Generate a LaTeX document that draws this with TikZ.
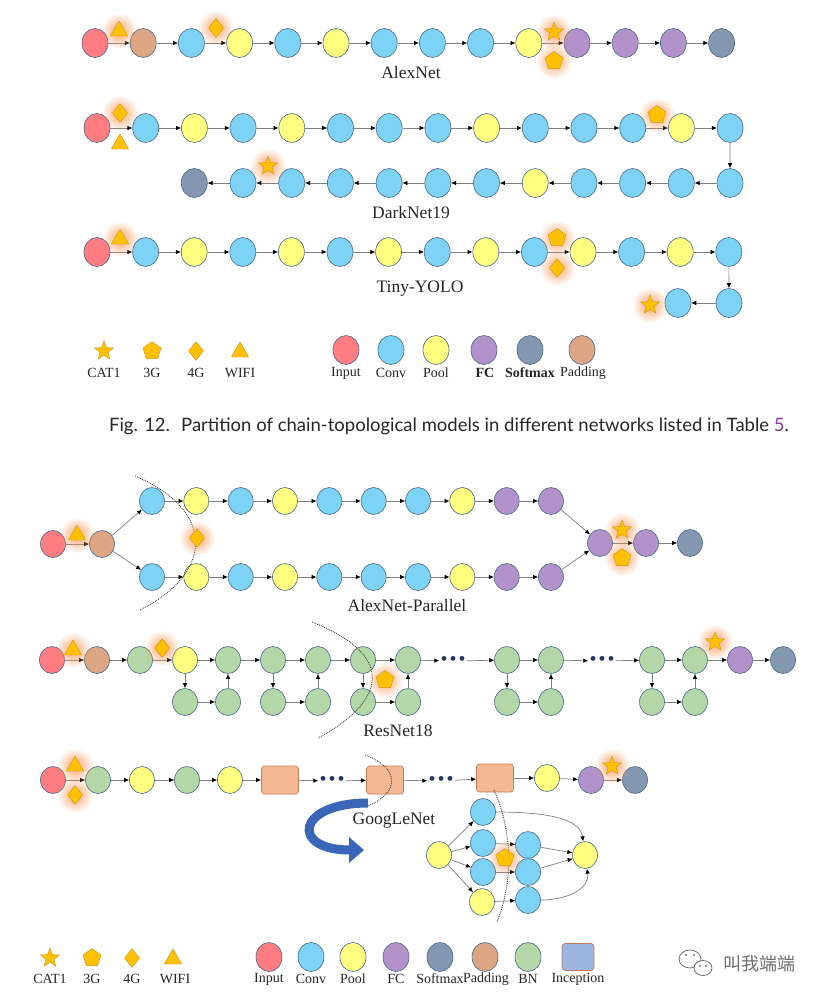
\documentclass[tikz,border=0pt]{standalone}
\usepackage{fontspec}
\setmainfont{Liberation Serif}
\newfontfamily\capfont{Lato}
\newfontfamily\cjkfont{Noto Sans CJK SC}
\usetikzlibrary{shapes.geometric,arrows.meta,fadings,positioning}

\definecolor{cinp}{HTML}{FF7C80}
\definecolor{cconv}{HTML}{7DD3F6}
\definecolor{cpool}{HTML}{FFFF80}
\definecolor{cfc}{HTML}{B392CC}
\definecolor{csoft}{HTML}{8497B0}
\definecolor{cpad}{HTML}{DDA683}
\definecolor{cbn}{HTML}{B4D7A8}
\definecolor{cinc}{HTML}{F5B895}
\definecolor{cincleg}{HTML}{9DB5E0}
\definecolor{incedge}{HTML}{C47A52}
\definecolor{nodeedge}{HTML}{46668A}
\definecolor{edgec}{HTML}{7F7F7F}
\definecolor{iconc}{HTML}{FFC000}
\definecolor{iconedge}{HTML}{C8961E}
\definecolor{glowc}{HTML}{F89858}
\definecolor{dotc}{HTML}{1F3864}
\definecolor{arrowc}{HTML}{3A66B8}
\definecolor{linkc}{HTML}{7E3A96}
\definecolor{wxc}{HTML}{6E6E6E}

\tikzfading[name=glowfade, inner color=transparent!10, outer color=transparent!100]
\pgfdeclarelayer{front}
\pgfsetlayers{main,front}

\begin{document}
\begin{tikzpicture}[x=1pt,y=-1pt,
  lay/.style={ellipse,draw=nodeedge,line width=0.6pt,inner sep=0pt,minimum width=26pt,minimum height=29pt},
  lays/.style={lay,minimum width=25pt,minimum height=27pt},
  inc/.style={rectangle,rounded corners=3pt,draw=incedge,line width=0.6pt,fill=cinc,minimum width=37pt,minimum height=28pt},
  flow/.style={draw=edgec,line width=0.7pt,-{Latex[length=5pt,width=4.5pt,color=black]}},
  icon/.style={fill=iconc,draw=iconedge,line width=0.4pt,inner sep=0pt},
  cat/.style={icon,star,star points=5,star point ratio=2.4,minimum size=20pt},
  threeg/.style={icon,regular polygon,regular polygon sides=5,minimum size=19pt},
  fourg/.style={icon,diamond,minimum width=15pt,minimum height=19pt},
  wifi/.style={icon,regular polygon,regular polygon sides=3,minimum size=20pt},
  glow/.style={fill=glowc,path fading=glowfade},
  cut/.style={densely dotted,line width=0.9pt,draw=black!75},
  dotsn/.style={inner sep=1pt,text=dotc,font=\fontsize{20}{20}\selectfont},
  lbl/.style={font=\fontsize{17.5}{20}\selectfont,text=black!85},
  leg/.style={font=\fontsize{14}{16}\selectfont,text=black!85},
  bigarrow/.style={draw=arrowc,line width=9pt,-{Triangle[width=25pt,length=15pt]}}]

\fill[white] (0,0) rectangle (820,1001);
\useasboundingbox (0,0) rectangle (820,1001);

% alexnet
\foreach \t [count=\i] in {inp,pad,conv,pool,conv,pool,conv,conv,conv,pool,fc,fc,fc,soft}
  \node[lay,fill=c\t] (a\i) at ({95+48.2*(\i-1)},43) {};
\foreach \i [evaluate=\i as \j using int(\i-1)] in {2,...,14}
  \draw[flow] (a\j) -- (a\i);
\node[lbl] (alexl) at (411,73) {AlexNet};
\begin{pgfonlayer}{front}
  \node[wifi] (aw) at (119,31) {};
  \node[fourg] (af) at (216,28) {};
  \node[cat] (ac) at (554,32) {};
  \node[threeg] (ap) at (554,61) {};
\end{pgfonlayer}
\foreach \n in {aw,af,ac,ap} \fill[glow] (\n) circle (18pt);

% darknet19
\foreach \t [count=\i] in {inp,conv,pool,conv,pool,conv,conv,conv,pool,conv,conv,conv,pool,conv}
  \node[lay,fill=c\t] (d\i) at ({97+48.7*(\i-1)},128) {};
\foreach \t [count=\i] in {conv,conv,conv,conv,pool,conv,conv,conv,conv,conv,conv,soft}
  \node[lay,fill=c\t] (e\i) at ({730-48.7*(\i-1)},183) {};
\foreach \i [evaluate=\i as \j using int(\i-1)] in {2,...,14}
  \draw[flow] (d\j) -- (d\i);
\draw[flow] (d14) -- (e1);
\foreach \i [evaluate=\i as \j using int(\i-1)] in {2,...,12}
  \draw[flow] (e\j) -- (e\i);
\node[lbl] (darkl) at (411,213) {DarkNet19};
\begin{pgfonlayer}{front}
  \node[fourg] (df) at (120,113) {};
  \node[wifi] (dw) at (120,144) {};
  \node[threeg] (dp) at (657,115) {};
  \node[cat] (dc) at (268,166) {};
\end{pgfonlayer}
\foreach \n in {df,dp,dc} \fill[glow] (\n) circle (18pt);

% tiny-yolo
\foreach \t [count=\i] in {inp,conv,pool,conv,pool,conv,pool,conv,pool,conv,pool,conv,pool,conv}
  \node[lay,fill=c\t] (y\i) at ({97+48.6*(\i-1)},252) {};
\node[lay,fill=cconv] (y15) at (729,303) {};
\node[lay,fill=cconv] (y16) at (678,303) {};
\foreach \i [evaluate=\i as \j using int(\i-1)] in {2,...,16}
  \draw[flow] (y\j) -- (y\i);
\node[lbl] (tinyl) at (420,289) {Tiny-YOLO};
\begin{pgfonlayer}{front}
  \node[wifi] (yw) at (120,239) {};
  \node[threeg] (yp) at (557,238) {};
  \node[fourg] (yf) at (557,268) {};
  \node[cat] (yc) at (650,305) {};
\end{pgfonlayer}
\foreach \n in {yw,yp,yf,yc} \fill[glow] (\n) circle (18pt);

% legenda 1
\node[cat] (k1) at (104,351) {};
\node[threeg] (k2) at (152,351) {};
\node[fourg] (k3) at (196,351) {};
\node[wifi] (k4) at (240,352) {};
\foreach \x/\s [count=\i] in {104/CAT1,152/3G,196/4G,240/WIFI}
  \node[leg] (kl\i) at (\x,373) {\s};
\foreach \t/\x [count=\i] in {inp/346,conv/391,pool/436,fc/484,soft/530,pad/582}
  \node[lay,fill=c\t] (m\i) at (\x,350) {};
\node[leg] (ml1) at (346,373) {Input};
\node[leg] (ml2) at (391,373) {Conv};
\node[leg] (ml3) at (436,373) {Pool};
\node[leg] (ml4) at (485,373) {\bfseries FC};
\node[leg] (ml5) at (530,373) {\bfseries Softmax};
\node[leg] (ml6) at (583,373) {Padding};

% popis
\node[font=\capfont\fontsize{18.5}{21}\selectfont,text=black!85] (cap) at (449,426)
  {Fig. 12.\hspace{0.6em}Partition of chain-topological models in different networks listed in Table \textcolor{linkc}{5}.};

% alexnet-parallel
\node[lays,fill=cinp] (p1) at (53,544) {};
\node[lays,fill=cpad] (p2) at (102,544) {};
\foreach \t [count=\i] in {conv,pool,conv,pool,conv,conv,conv,pool,fc,fc} {
  \node[lays,fill=c\t] (pu\i) at ({152+44.33*(\i-1)},501) {};
  \node[lays,fill=c\t] (pb\i) at ({152+44.33*(\i-1)},577) {};
}
\node[lays,fill=cfc] (pm1) at (600,543) {};
\node[lays,fill=cfc] (pm2) at (646,543) {};
\node[lays,fill=csoft] (pm3) at (690,543) {};
\draw[flow] (p1) -- (p2);
\draw[flow] (p2) -- (pu1);
\draw[flow] (p2) -- (pb1);
\foreach \i [evaluate=\i as \j using int(\i-1)] in {2,...,10} {
  \draw[flow] (pu\j) -- (pu\i);
  \draw[flow] (pb\j) -- (pb\i);
}
\draw[flow] (pu10) -- (pm1);
\draw[flow] (pb10) -- (pm1);
\draw[flow] (pm1) -- (pm2);
\draw[flow] (pm2) -- (pm3);
\draw[cut] (135,476) .. controls (215,510) and (215,572) .. (140,610);
\node[lbl] (parl) at (407,606) {AlexNet-Parallel};
\begin{pgfonlayer}{front}
  \node[wifi] (pw) at (77,535) {};
  \node[fourg] (pf) at (197,538) {};
  \node[cat] (pc) at (622,530) {};
  \node[threeg] (pp) at (622,558) {};
\end{pgfonlayer}
\foreach \n in {pw,pf,pc,pp} \fill[glow] (\n) circle (18pt);

% resnet18
\foreach \t/\x [count=\i] in {inp/52,pad/97,bn/140,pool/185,bn/228,bn/273,bn/318,bn/363,bn/408,bn/507,bn/551,bn/652,bn/695,fc/740,soft/783}
  \node[lays,fill=c\t] (r\i) at (\x,660) {};
\foreach \x [count=\i] in {185,228,273,318,363,408,507,551,652,695}
  \node[lays,fill=cbn] (q\i) at (\x,702) {};
\node[dotsn] (rd1) at (453,661) {\textbullet\hspace{2pt}\textbullet\hspace{2pt}\textbullet};
\node[dotsn] (rd2) at (602,661) {\textbullet\hspace{2pt}\textbullet\hspace{2pt}\textbullet};
\foreach \a/\b in {r1/r2,r2/r3,r3/r4,r4/r5,r5/r6,r6/r7,r7/r8,r8/r9,r9/rd1,rd1/r10,r10/r11,r11/rd2,rd2/r12,r12/r13,r13/r14,r14/r15}
  \draw[flow] (\a) -- (\b);
\foreach \a/\b/\c/\d in {r4/q1/q2/r5,r6/q3/q4/r7,r8/q5/q6/r9,r10/q7/q8/r11,r12/q9/q10/r13} {
  \draw[flow] (\a) -- (\b);
  \draw[flow] (\b) -- (\c);
  \draw[flow] (\c) -- (\d);
}
\draw[cut] (312,622) .. controls (395,655) and (388,700) .. (318,738);
\node[lbl] (resl) at (398,731) {ResNet18};
\begin{pgfonlayer}{front}
  \node[wifi] (rw) at (73,650) {};
  \node[fourg] (rf) at (162,648) {};
  \node[threeg] (rp) at (385,680) {};
  \node[cat] (rc) at (715,642) {};
\end{pgfonlayer}
\foreach \n in {rw,rf,rp,rc} \fill[glow] (\n) circle (18pt);

% googlenet
\foreach \t/\x [count=\i] in {inp/53,bn/98,pool/142,bn/187,pool/230}
  \node[lays,fill=c\t] (g\i) at (\x,780) {};
\node[inc] (g6) at (280,780) {};
\node[dotsn] (gd1) at (332,781) {\textbullet\hspace{2pt}\textbullet\hspace{2pt}\textbullet};
\node[inc] (g7) at (385,780) {};
\node[dotsn] (gd2) at (441,781) {\textbullet\hspace{2pt}\textbullet\hspace{2pt}\textbullet};
\node[inc] (g8) at (495,778) {};
\node[lays,fill=cpool] (g9) at (547,778) {};
\node[lays,fill=cfc] (g10) at (591,780) {};
\node[lays,fill=csoft] (g11) at (635,780) {};
\foreach \a/\b in {g1/g2,g2/g3,g3/g4,g4/g5,g5/g6,g6/gd1,gd1/g7,g7/gd2,gd2/g8,g8/g9,g9/g10,g10/g11}
  \draw[flow] (\a) -- (\b);
\draw[cut] (365,755) .. controls (400,768) and (400,792) .. (368,806);
\node[lbl] (googl) at (394,821) {GoogLeNet};
\draw[bigarrow] (368,803) .. controls (296,803) and (290,850) .. (364,850);

% inception
\node[lays,fill=cpool] (n1) at (439,855) {};
\node[lays,fill=cconv] (n2) at (483,812) {};
\node[lays,fill=cconv] (n3) at (483,843) {};
\node[lays,fill=cconv] (n4) at (483,872) {};
\node[lays,fill=cpool] (n5) at (482,902) {};
\node[lays,fill=cconv] (n6) at (528,845) {};
\node[lays,fill=cconv] (n7) at (528,872) {};
\node[lays,fill=cconv] (n8) at (528,900) {};
\node[lays,fill=cpool] (n9) at (585,855) {};
\foreach \a/\b in {n1/n2,n1/n3,n1/n4,n1/n5,n3/n6,n4/n7,n5/n8,n6/n9,n7/n9}
  \draw[flow] (\a) -- (\b);
\draw[flow] (n2) .. controls (545,812) and (580,818) .. (n9);
\draw[flow] (n8) .. controls (565,900) and (590,890) .. (n9);
\draw[cut] (494,790) .. controls (512,830) and (514,880) .. (497,922);
\begin{pgfonlayer}{front}
  \node[wifi] (gw) at (75,766) {};
  \node[fourg] (gf) at (75,795) {};
  \node[cat] (gc) at (612,766) {};
  \node[threeg] (gp) at (505,858) {};
\end{pgfonlayer}
\foreach \n in {gw,gf,gc,gp} \fill[glow] (\n) circle (18pt);

% legenda 2
\node[cat] (s1) at (50,958) {};
\node[threeg] (s2) at (92,958) {};
\node[fourg] (s3) at (132,958) {};
\node[wifi] (s4) at (173,959) {};
\foreach \x/\s [count=\i] in {50/CAT1,92/3G,132/4G,175/WIFI}
  \node[leg] (sl\i) at (\x,979) {\s};
\foreach \t/\x [count=\i] in {inp/269,conv/311,pool/353,fc/396,soft/440,pad/485,bn/528}
  \node[lay,fill=c\t] (u\i) at (\x,957) {};
\node[inc,fill=cincleg,minimum width=32pt,minimum height=27pt] (u8) at (578,957) {};
\foreach \x/\s [count=\i] in {269/Input,311/Conv,353/Pool,396/FC,440/Softmax,486/Padding,528/BN,578/Inception}
  \node[leg] (ul\i) at (\x,979) {\s};

% vodoznak
\draw[wxc,line width=0.8pt,fill=white] (690,959) ellipse (11pt and 9pt);
\draw[wxc,line width=0.8pt,fill=white] (703,968) ellipse (9pt and 7.5pt);
\foreach \x/\y in {686/955,694/955,700/966,706/966}
  \fill[wxc] (\x,\y) circle (1.1pt);
\node[font=\cjkfont\fontsize{18}{20}\selectfont,text=wxc] (wxname) at (759,964) {叫我端端};

\end{tikzpicture}
\end{document}
